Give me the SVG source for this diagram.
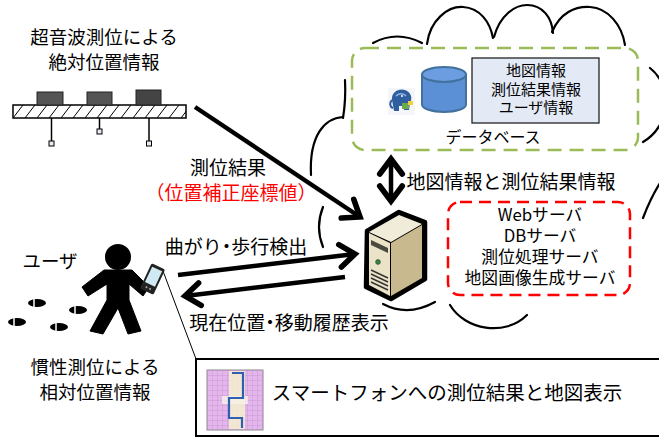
<svg xmlns="http://www.w3.org/2000/svg" width="659" height="437" viewBox="0 0 659 437">
  <style>
    text { font-family: "Noto Sans CJK JP", "Noto Sans", sans-serif; fill: #000; text-anchor: middle; }
    .lbl { font-size: 18.5px; }
    .arr { font-size: 19px; }
    .red { fill: #ff0000; }
    .dot { font-feature-settings: "palt"; }
    .cloud { fill: none; stroke: #000; stroke-width: 2.2; stroke-linecap: round; }
    .arrow { fill: none; stroke: #000; stroke-width: 4.5; }
  </style>
  <defs>
    <marker id="vhead" markerUnits="userSpaceOnUse" markerWidth="30" markerHeight="30" viewBox="-16 -12 20 24" refX="0" refY="0" orient="auto-start-reverse">
      <path d="M-12,-9 L0,0 L-12,9" fill="none" stroke="#000" stroke-width="4.5" stroke-linecap="round"/>
    </marker>
    <pattern id="hatch" patternUnits="userSpaceOnUse" width="12" height="13" x="13" y="105">
      <line x1="0" y1="13" x2="10" y2="0" stroke="#000" stroke-width="1"/>
    </pattern>
    <pattern id="grid" patternUnits="userSpaceOnUse" width="5" height="5" x="207" y="370">
      <path d="M5,0 L0,0 L0,5" fill="none" stroke="#c18ccf" stroke-width="0.7"/>
    </pattern>
  </defs>

  <!-- network cloud -->
  <g id="cloud">
    <path class="cloud" d="M373,43 Q397,30 422,43"/>
    <path class="cloud" d="M427,44 C430,20 448,6 463,7 C480,8 490,22 493,38"/>
    <path class="cloud" d="M494,37 C500,15 515,5 527,5 C543,5 552,18 553,33"/>
    <path class="cloud" d="M552,32 C560,13 575,6 590,7 C608,8 622,25 625,45"/>
    <path class="cloud" d="M650,68 C672,85 672,125 643,142"/>
    <path class="cloud" d="M643,218 C648,205 654,192 662,180"/>
    <path class="cloud" d="M450,305 C465,330 505,337 527,315"/>
    <path class="cloud" d="M383,304 Q408,317 435,302"/>
    <path class="cloud" d="M345,80 Q346,100 343,118"/>
    <path class="cloud" d="M343,117 C325,118 309,135 311,175"/>
    <path class="cloud" d="M323,207 Q315,227 323,247"/>
  </g>

  <!-- database group -->
  <g id="database">
    <rect x="352" y="48" width="286" height="102" rx="13" fill="none" stroke="#9bbb59" stroke-width="2.5" stroke-dasharray="14 8"/>
    <g id="db-icon">
      <rect x="388" y="88" width="27" height="27" fill="#f4f6fa"/>
      <path d="M392,100 C391,92 399,88 405,90 C411,92 413,98 410,103 L409,110 L404,110 L404,106 L399,106 L399,111 L394,111 Z" fill="#2f5f9e"/>
      <path d="M396,96 C399,93 404,93 406,96" fill="none" stroke="#8fb3dc" stroke-width="1.5"/>
      <path d="M392,100 C389,103 390,107 393,108" fill="none" stroke="#2f5f9e" stroke-width="2"/>
      <rect x="402" y="103" width="7" height="6" fill="#6aaa4c"/>
      <rect x="408" y="101" width="5" height="4" fill="#f0d040"/>
      <circle cx="402" cy="96" r="1" fill="#fff"/>
    </g>
    <path d="M422,74.5 L422,104.5 A22,7.5 0 0 0 466,104.5 L466,74.5 Z" fill="#5b8fd6" stroke="#41719c" stroke-width="2"/>
    <ellipse cx="444" cy="74.5" rx="22" ry="7.5" fill="#6b9de0" stroke="#41719c" stroke-width="2"/>
    <rect x="472" y="58" width="127" height="65" fill="#e3eaf6" stroke="#222" stroke-width="1.3"/>
    <text x="536" y="76" font-size="15">地図情報</text>
    <text x="536" y="95" font-size="15">測位結果情報</text>
    <text x="536" y="113" font-size="15">ユーザ情報</text>
    <text x="493" y="143" font-size="16">データベース</text>
  </g>

  <!-- server roles -->
  <g id="servers">
    <rect x="448" y="202" width="182" height="93" rx="12" fill="none" stroke="#ff0000" stroke-width="2.5" stroke-dasharray="12 7"/>
    <text x="540" y="221" font-size="16.8">Webサーバ</text>
    <text x="540" y="242" font-size="16.8">DBサーバ</text>
    <text x="540" y="263" font-size="16.8">測位処理サーバ</text>
    <text x="540" y="284" font-size="16.8">地図画像生成サーバ</text>
  </g>

  <!-- connectors -->
  <g id="connectors">
    <line class="arrow" x1="195" y1="107" x2="360" y2="217" marker-end="url(#vhead)"/>
    <line class="arrow" x1="178" y1="275" x2="355" y2="254" marker-end="url(#vhead)"/>
    <line class="arrow" x1="345" y1="277" x2="185" y2="296" marker-end="url(#vhead)"/>
    <line class="arrow" x1="391" y1="159" x2="391" y2="201" marker-start="url(#vhead)" marker-end="url(#vhead)"/>
    <line x1="163" y1="271" x2="196" y2="359" stroke="#000" stroke-width="1"/>
  </g>

  <!-- connector labels -->
  <g id="labels">
    <text class="arr" x="228" y="175">測位結果</text>
    <text class="arr red" x="231" y="200">（位置補正座標値）</text>
    <text class="arr" x="236" y="254">曲がり<tspan class="dot">・</tspan>歩行検出</text>
    <text class="arr" x="289" y="330">現在位置<tspan class="dot">・</tspan>移動履歴表示</text>
    <text class="arr" x="511" y="189">地図情報と測位結果情報</text>
  </g>

  <!-- positioning server -->
  <g id="server">
    <polygon points="367,231 399,212 425,222 425,279 391,299 366,287" fill="#000" stroke="#000" stroke-width="4.5" stroke-linejoin="round"/>
    <polygon points="369,232 399,215 422,224 391,242" fill="#f1ecda"/>
    <polygon points="369,233 390,243 390,296 369,285" fill="#ebe3c8"/>
    <polygon points="391,243 422,225 422,278 391,296" fill="#c9b98f"/>
    <polygon points="371,240 388,248 388,253 371,245" fill="#4a4a40"/>
    <circle cx="378" cy="262" r="2.4" fill="#2e8b3a" stroke="#333" stroke-width="0.6"/>
    <g stroke="#333" stroke-width="1.4">
      <line x1="371" y1="270" x2="388" y2="278"/>
      <line x1="371" y1="274" x2="388" y2="282"/>
      <line x1="371" y1="278" x2="388" y2="286"/>
      <line x1="371" y1="282" x2="388" y2="290"/>
    </g>
  </g>

  <!-- ultrasonic positioning rail -->
  <g id="ultrasonic">
    <text class="lbl" x="104" y="44">超音波測位による</text>
    <text class="lbl" x="104" y="69">絶対位置情報</text>
    <rect x="13" y="105" width="173" height="13" fill="#fff"/>
    <rect x="13" y="105" width="173" height="13" fill="url(#hatch)" stroke="#000" stroke-width="1.5"/>
    <rect x="37" y="92" width="26" height="13" fill="#555" stroke="#222" stroke-width="1"/>
    <rect x="87" y="92" width="25" height="13" fill="#555" stroke="#222" stroke-width="1"/>
    <rect x="136" y="90" width="25" height="15" fill="#444" stroke="#222" stroke-width="1"/>
    <g stroke="#000" stroke-width="1.5">
      <line x1="51.5" y1="118" x2="51.5" y2="141"/>
      <line x1="99.5" y1="118" x2="99.5" y2="129"/>
      <line x1="149" y1="118" x2="149" y2="141"/>
    </g>
    <g fill="#e6ebf5" stroke="#000" stroke-width="1">
      <rect x="49" y="141" width="5" height="5"/>
      <rect x="97" y="129" width="5" height="5"/>
      <rect x="146.5" y="141" width="5" height="5"/>
    </g>
  </g>

  <!-- pedestrian with smartphone -->
  <g id="user">
    <text class="lbl" x="50" y="268">ユーザ</text>
    <circle cx="118" cy="257" r="13" fill="#000"/>
    <path d="M104,270 L82,287 L88,296 L107,284 L107,300 L90,331 L103,334 L118,308 L128,334 L141,331 L129,300 L129,284 L143,296 L149,287 L132,270 Z" fill="#000" stroke="#000" stroke-width="1" stroke-linejoin="round"/>
    <g transform="translate(152.5,279) rotate(25)">
      <rect x="-7.5" y="-14" width="15" height="28" rx="2" fill="#222"/>
      <rect x="-5.5" y="-11" width="11" height="17" fill="#cfeaf2"/>
      <circle cx="-2" cy="10" r="1" fill="#aaa"/>
      <circle cx="2" cy="10" r="1" fill="#aaa"/>
    </g>
    <g id="footprints" fill="#000">
      <ellipse cx="37" cy="303" rx="9" ry="4"/>
      <ellipse cx="78" cy="310" rx="9" ry="4"/>
      <ellipse cx="17" cy="322" rx="9" ry="4"/>
      <ellipse cx="59" cy="327" rx="9" ry="4"/>
      <g stroke="#fff" stroke-width="1.5">
        <line x1="34" y1="298" x2="34" y2="308"/>
        <line x1="75" y1="305" x2="75" y2="315"/>
        <line x1="14" y1="317" x2="14" y2="327"/>
        <line x1="56" y1="322" x2="56" y2="332"/>
      </g>
    </g>
    <text class="lbl" x="95" y="374">慣性測位による</text>
    <text class="lbl" x="95" y="399">相対位置情報</text>
  </g>

  <!-- smartphone display panel -->
  <g id="display">
    <rect x="196" y="359" width="470" height="77" fill="#fff" stroke="#000" stroke-width="2"/>
    <rect x="207" y="370" width="56" height="60" fill="#e3b6ec" stroke="#8a8a8a" stroke-width="1"/>
    <rect x="207" y="370" width="56" height="60" fill="url(#grid)"/>
    <rect x="229" y="371" width="16" height="58" fill="#f3f0cf" opacity="0.85"/>
    <rect x="222" y="396" width="26" height="8" fill="#f7f3e6" opacity="0.8"/>
    <polyline points="232,373 243,373 243,398 229,398 229,418 242,418 242,428" fill="none" stroke="#2f5fb3" stroke-width="2.2"/>
    <text x="447" y="400" font-size="19.5">スマートフォンへの測位結果と地図表示</text>
  </g>
</svg>
